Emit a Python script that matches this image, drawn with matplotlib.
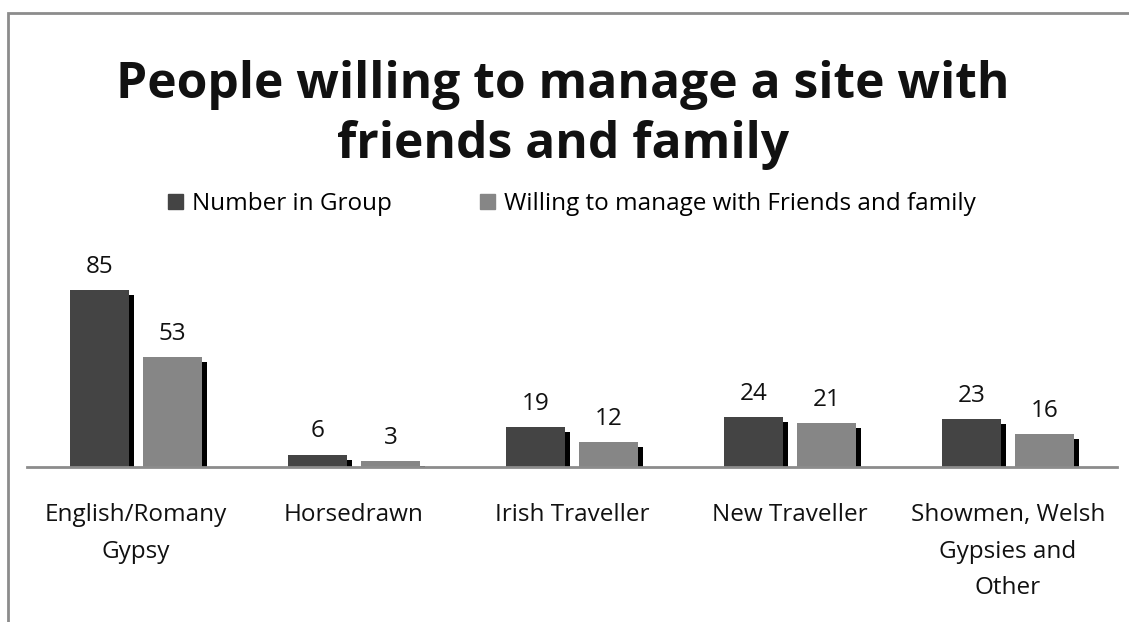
import matplotlib
matplotlib.use("Agg")
import matplotlib.pyplot as plt
import matplotlib.patches as mpatches
import matplotlib.lines as mlines
import matplotlib.patheffects as pe
import numpy as np

plt.rcParams['font.family'] = ['Open Sans', 'DejaVu Sans']

categories = ["English/Romany\nGypsy", "Horsedrawn", "Irish Traveller",
              "New Traveller", "Showmen, Welsh\nGypsies and\nOther"]
series_names = ["Number in Group", "Willing to manage with Friends and family"]
number_in_group = [85, 6, 19, 24, 23]
willing_to_manage = [53, 3, 12, 21, 16]
title = "People willing to manage a site with\nfriends and family"

W, H = 1129, 622
fig = plt.figure(figsize=(W / 100, H / 100), dpi=100)

# chart frame: only its left and top edges fall inside the image
fx, fy = 8 / W, 1 - 13 / H
fig.add_artist(mlines.Line2D([fx, fx, 1.0], [0.0, fy, fy], transform=fig.transFigure,
                             color="#8c8c8c", linewidth=2, solid_joinstyle="miter"))

base_px = 467
ymax = 90
px_per_unit = 177 / 85
ax = fig.add_axes([27 / W, (H - base_px) / H, 1090 / W, ymax * px_per_unit / H])
ax.set_xlim(-0.5, 4.5)
ax.set_ylim(0, ymax)

x = np.arange(len(categories))
bw = 0.27
off = 0.167
colors = ["#444444", "#868686"]
fs = 17.5
shadow = [pe.SimplePatchShadow(offset=(3.6, -3.6), shadow_rgbFace="black", alpha=1.0),
          pe.Normal()]

for vals, dx, col, name in [(number_in_group, -off, colors[0], series_names[0]),
                            (willing_to_manage, off, colors[1], series_names[1])]:
    bars = ax.bar(x + dx, vals, width=bw, color=col, label=name, zorder=2)
    for b in bars:
        b.set_path_effects(shadow)
    for xi, v in zip(x + dx, vals):
        ax.annotate(str(v), (xi, v), xytext=(0, 8), textcoords="offset points",
                    ha="center", va="bottom", fontsize=fs, color="#111111")

for s in ["left", "right", "top"]:
    ax.spines[s].set_visible(False)
ax.spines["bottom"].set_color("#8c8c8c")
ax.spines["bottom"].set_linewidth(2)
ax.spines["bottom"].set_zorder(3)
ax.set_yticks([])
ax.set_xticks(x)
ax.set_xticklabels(categories, fontsize=fs, linespacing=1.7, color="#111111")
ax.tick_params(axis="x", length=0, pad=26)

fig.text(563 / W, 1 - 115 / H, title, ha="center", va="center",
         fontsize=35.8, fontweight="bold", linespacing=1.27, color="#111111")

handles = [mpatches.Patch(color=colors[0]), mpatches.Patch(color=colors[1])]
fig.legend(handles, series_names, loc="center", bbox_to_anchor=(572 / W, 1 - 204 / H),
           ncol=2, frameon=False, fontsize=fs, handlelength=0.62, handleheight=0.62,
           handletextpad=0.37, columnspacing=3.6, borderpad=0)

fig.savefig("out.png", dpi=100)
